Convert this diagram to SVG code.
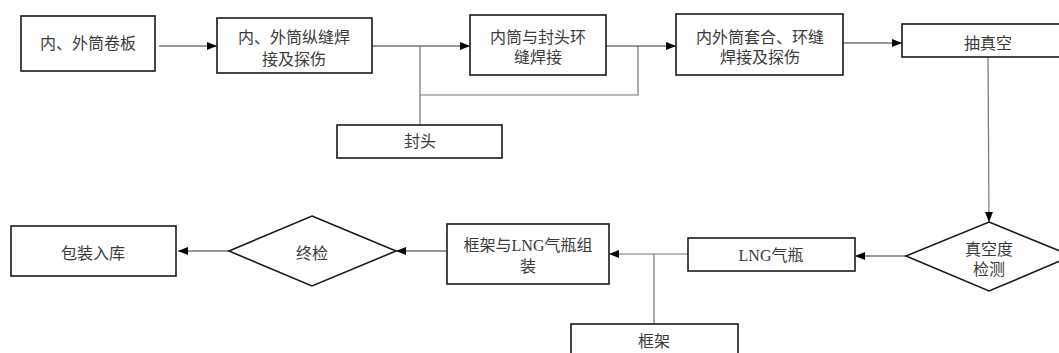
<svg xmlns="http://www.w3.org/2000/svg" width="1059" height="353" viewBox="0 0 1059 353">
<defs>
<marker id="ah" markerWidth="10" markerHeight="8" refX="10" refY="4" orient="auto" markerUnits="userSpaceOnUse">
<path d="M0,0 L10,4 L0,8 Z" fill="#000"/>
</marker>
</defs>
<style>
.box{fill:#fff;stroke:#1a1a1a;stroke-width:1.6}
.t{font-family:"Liberation Serif","Noto Sans CJK SC",serif;font-size:16px;fill:#3a3a3a;text-anchor:middle}
.c{fill:none;stroke:#333;stroke-width:1}
.g{fill:none;stroke:#777;stroke-width:1.2}
</style>
<rect width="1059" height="353" fill="#fff"/>
<g id="connectors">
<line class="c" x1="159" y1="46" x2="217" y2="46" marker-end="url(#ah)"/>
<line class="c" x1="372" y1="46" x2="470" y2="46" marker-end="url(#ah)"/>
<polyline class="g" points="420,46 420,125"/>
<polyline class="g" points="420,95 638,95 638,46"/>
<line class="c" x1="606" y1="46" x2="676" y2="46" marker-end="url(#ah)"/>
<line class="c" x1="843" y1="43" x2="902" y2="43" marker-end="url(#ah)"/>
<line class="g" x1="988" y1="57" x2="989" y2="222" marker-end="url(#ah)"/>
<line class="c" x1="906" y1="256" x2="855" y2="256" marker-end="url(#ah)"/>
<line class="g" x1="688" y1="254" x2="609" y2="254" marker-end="url(#ah)"/>
<line class="g" x1="654" y1="254" x2="654" y2="324"/>
<line class="c" x1="447" y1="251" x2="396" y2="251" marker-end="url(#ah)"/>
<line class="c" x1="229" y1="251" x2="178" y2="251" marker-end="url(#ah)"/>
</g>
<g id="n1"><rect class="box" x="21" y="16" width="134" height="55"/><text class="t" x="88" y="49">内、外筒卷板</text></g>
<g id="n2"><rect class="box" x="217" y="18" width="155" height="55"/><text class="t" x="294" y="43">内、外筒纵缝焊</text><text class="t" x="294" y="65">接及探伤</text></g>
<g id="n3"><rect class="box" x="337" y="125" width="165" height="33"/><text class="t" x="420" y="147">封头</text></g>
<g id="n4"><rect class="box" x="470" y="15" width="136" height="60"/><text class="t" x="538" y="43">内筒与封头环</text><text class="t" x="538" y="63">缝焊接</text></g>
<g id="n5"><rect class="box" x="676" y="14" width="167" height="61"/><text class="t" x="760" y="43">内外筒套合、环缝</text><text class="t" x="760" y="63">焊接及探伤</text></g>
<g id="n6"><rect class="box" x="902" y="24" width="160" height="33"/><text class="t" x="988" y="49">抽真空</text></g>
<g id="n7"><polygon class="box" points="989,222 1072,256 989,291 906,256"/><text class="t" x="989" y="255">真空度</text><text class="t" x="989" y="275">检测</text></g>
<g id="n8"><rect class="box" x="688" y="238" width="167" height="33"/><text class="t" x="771" y="261">LNG气瓶</text></g>
<g id="n9"><rect class="box" x="571" y="324" width="167" height="40"/><text class="t" x="654" y="347">框架</text></g>
<g id="n10"><rect class="box" x="447" y="224" width="162" height="60"/><text class="t" x="528" y="251">框架与LNG气瓶组</text><text class="t" x="528" y="272">装</text></g>
<g id="n11"><polygon class="box" points="312,216 396,251 312,286 229,251"/><text class="t" x="312" y="259">终检</text></g>
<g id="n12"><rect class="box" x="11" y="226" width="165" height="50"/><text class="t" x="93" y="259">包装入库</text></g>
</svg>
